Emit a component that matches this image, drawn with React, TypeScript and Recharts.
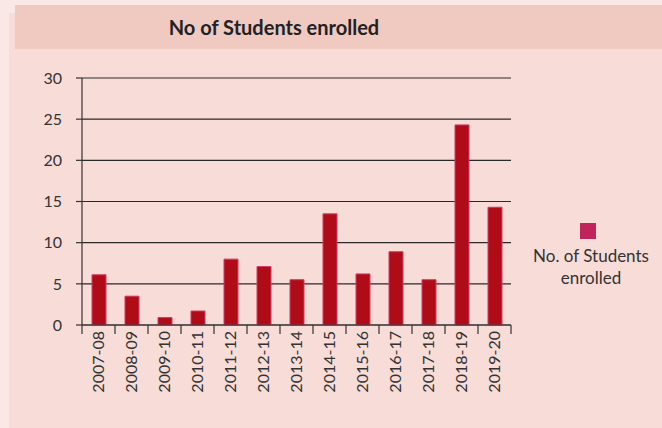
import React from 'react';
import { BarChart, Bar, XAxis, YAxis, CartesianGrid } from 'recharts';

const years = ['2007-08', '2008-09', '2009-10', '2010-11', '2011-12', '2012-13', '2013-14', '2014-15', '2015-16', '2016-17', '2017-18', '2018-19', '2019-20'];
const enrolled = [6.1, 3.5, 0.9, 1.7, 8, 7.1, 5.5, 13.5, 6.2, 8.9, 5.5, 24.3, 14.3];
const yTicks = [0, 5, 10, 15, 20, 25, 30];
const seriesName = 'No. of Students enrolled';

const data = years.map((y, i) => ({ year: y, value: enrolled[i] }));

const FONT = 'Lato, "Open Sans", sans-serif';
const W = 662;
const H = 428;
const M = { top: 78, right: 151, left: 0, bottom: 0 };
const Y_W = 82;
const X_H = 103;
const plotW = W - M.left - M.right - Y_W;
const band = plotW / years.length;

const XTick = (props: any) => {
  const { x, y, payload, index } = props;
  const last = index === years.length - 1;
  return (
    <g>
      <line x1={x - band / 2} x2={x - band / 2} y1={y} y2={y + 9} stroke="#333" strokeWidth={1.2} />
      {last && <line x1={x + band / 2} x2={x + band / 2} y1={y} y2={y + 9} stroke="#333" strokeWidth={1.2} />}
      <text
        x={x - 1}
        y={y + 6}
        transform={`rotate(-90, ${x - 1}, ${y + 6})`}
        textAnchor="end"
        dominantBaseline="central"
        fontFamily={FONT}
        fontSize={16}
        fill="#333"
      >
        {payload.value}
      </text>
    </g>
  );
};

export default function App() {
  return (
    <div style={{ position: 'absolute', left: 0, top: 0, width: W, height: H, background: '#f9e8e5', overflow: 'hidden' }}>
      <div style={{ position: 'absolute', left: 9, top: 13, width: W - 9, height: H - 13, background: '#f7dcd7' }} />
      <div style={{ position: 'absolute', left: 15, top: 5, width: W - 15, height: 44, background: '#f0c9c1' }} />
      <div
        style={{
          position: 'absolute',
          left: 0,
          top: 5,
          width: 548,
          height: 44,
          lineHeight: '44px',
          textAlign: 'center',
          fontFamily: FONT,
          fontWeight: 700,
          fontSize: 20,
          color: '#222',
        }}
      >
        No of Students enrolled
      </div>
      <div style={{ position: 'absolute', left: 0, top: 0 }}>
        <BarChart width={W} height={H} data={data} margin={M} barSize={14}>
          <CartesianGrid horizontal vertical={false} stroke="#2a2a2a" strokeWidth={1.2} />
          <XAxis
            dataKey="year"
            height={X_H}
            interval={0}
            tickLine={false}
            tickSize={0}
            tickMargin={0}
            axisLine={{ stroke: '#333', strokeWidth: 1.2 }}
            tick={<XTick />}
          />
          <YAxis
            width={Y_W}
            domain={[0, 30]}
            ticks={yTicks}
            interval={0}
            tickSize={6}
            tickMargin={14}
            tickLine={{ stroke: '#333', strokeWidth: 1.2 }}
            axisLine={{ stroke: '#333', strokeWidth: 1.2 }}
            tick={{ fontFamily: FONT, fontSize: 16, fill: '#333' }}
          />
          <Bar dataKey="value" name={seriesName} fill="#b00c18" stroke="#cf3a66" strokeWidth={1} isAnimationActive={false} />
        </BarChart>
      </div>
      <div
        style={{
          position: 'absolute',
          left: 516,
          top: 223,
          width: 150,
          textAlign: 'center',
          fontFamily: FONT,
          fontSize: 17,
          color: '#333',
          lineHeight: '22px',
        }}
      >
        <div style={{ width: 16, height: 16, background: '#c0245a', margin: '0 auto 6px auto', position: 'relative', left: -3 }} />
        <div>No. of Students</div>
        <div>enrolled</div>
      </div>
    </div>
  );
}
